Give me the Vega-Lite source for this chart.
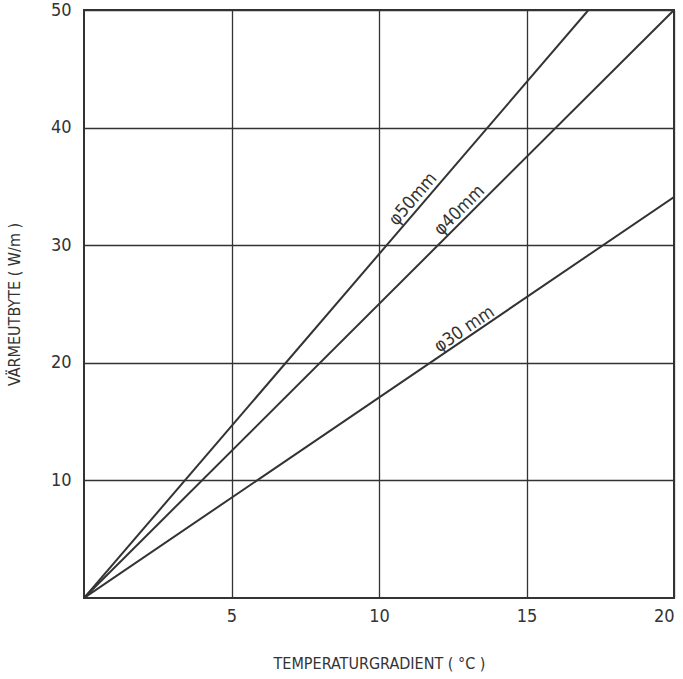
{
  "$schema": "https://vega.github.io/schema/vega-lite/v6.json",
  "width": 590,
  "height": 588,
  "autosize": {"type": "none"},
  "padding": {"left": 84, "top": 10, "right": 9, "bottom": 81},
  "background": "#ffffff",
  "config": {
    "view": {"stroke": "#333333", "strokeWidth": 2},
    "font": "DejaVu Sans Condensed",
    "axis": {
      "labelFont": "DejaVu Sans Condensed",
      "titleFont": "DejaVu Sans Condensed",
      "labelFontSize": 18,
      "labelColor": "#333333",
      "titleColor": "#333333",
      "titleFontSize": 16,
      "titleFontWeight": "normal",
      "domain": false,
      "ticks": false,
      "gridColor": "#333333",
      "gridWidth": 1.3,
      "gridOpacity": 1
    }
  },
  "datasets": {
    "lines": [
      {"pipe": "50", "t": 0, "w": 0},
      {"pipe": "50", "t": 17.1, "w": 50},
      {"pipe": "40", "t": 0, "w": 0},
      {"pipe": "40", "t": 20, "w": 50},
      {"pipe": "30", "t": 0, "w": 0},
      {"pipe": "30", "t": 20, "w": 34.1}
    ],
    "labels": [
      {"label": "φ50mm", "t": 11.39, "w": 33.4, "angle": -49.4},
      {"label": "φ40mm", "t": 12.95, "w": 32.4, "angle": -44.9},
      {"label": "φ30 mm", "t": 13.07, "w": 22.2, "angle": -34.1}
    ]
  },
  "layer": [
    {
      "data": {"name": "lines"},
      "mark": {"type": "line", "color": "#333333", "strokeWidth": 2, "clip": true},
      "encoding": {
        "x": {
          "field": "t", "type": "quantitative",
          "scale": {"domain": [0, 20], "nice": false, "zero": false},
          "axis": {"values": [5, 10, 15, 20], "title": "TEMPERATURGRADIENT ( °C )", "labelPadding": 9, "titlePadding": 30}
        },
        "y": {
          "field": "w", "type": "quantitative",
          "scale": {"domain": [0, 50], "nice": false, "zero": false},
          "axis": {"values": [10, 20, 30, 40, 50], "title": "VÄRMEUTBYTE ( W/m )", "labelPadding": 13, "titlePadding": 28}
        },
        "detail": {"field": "pipe"}
      }
    },
    {
      "data": {"name": "labels"},
      "mark": {"type": "text", "baseline": "bottom", "align": "center", "fontSize": 18, "color": "#333333", "dy": 0},
      "encoding": {
        "x": {"field": "t", "type": "quantitative"},
        "y": {"field": "w", "type": "quantitative"},
        "text": {"field": "label"},
        "angle": {"field": "angle", "type": "quantitative", "scale": null}
      }
    }
  ]
}
